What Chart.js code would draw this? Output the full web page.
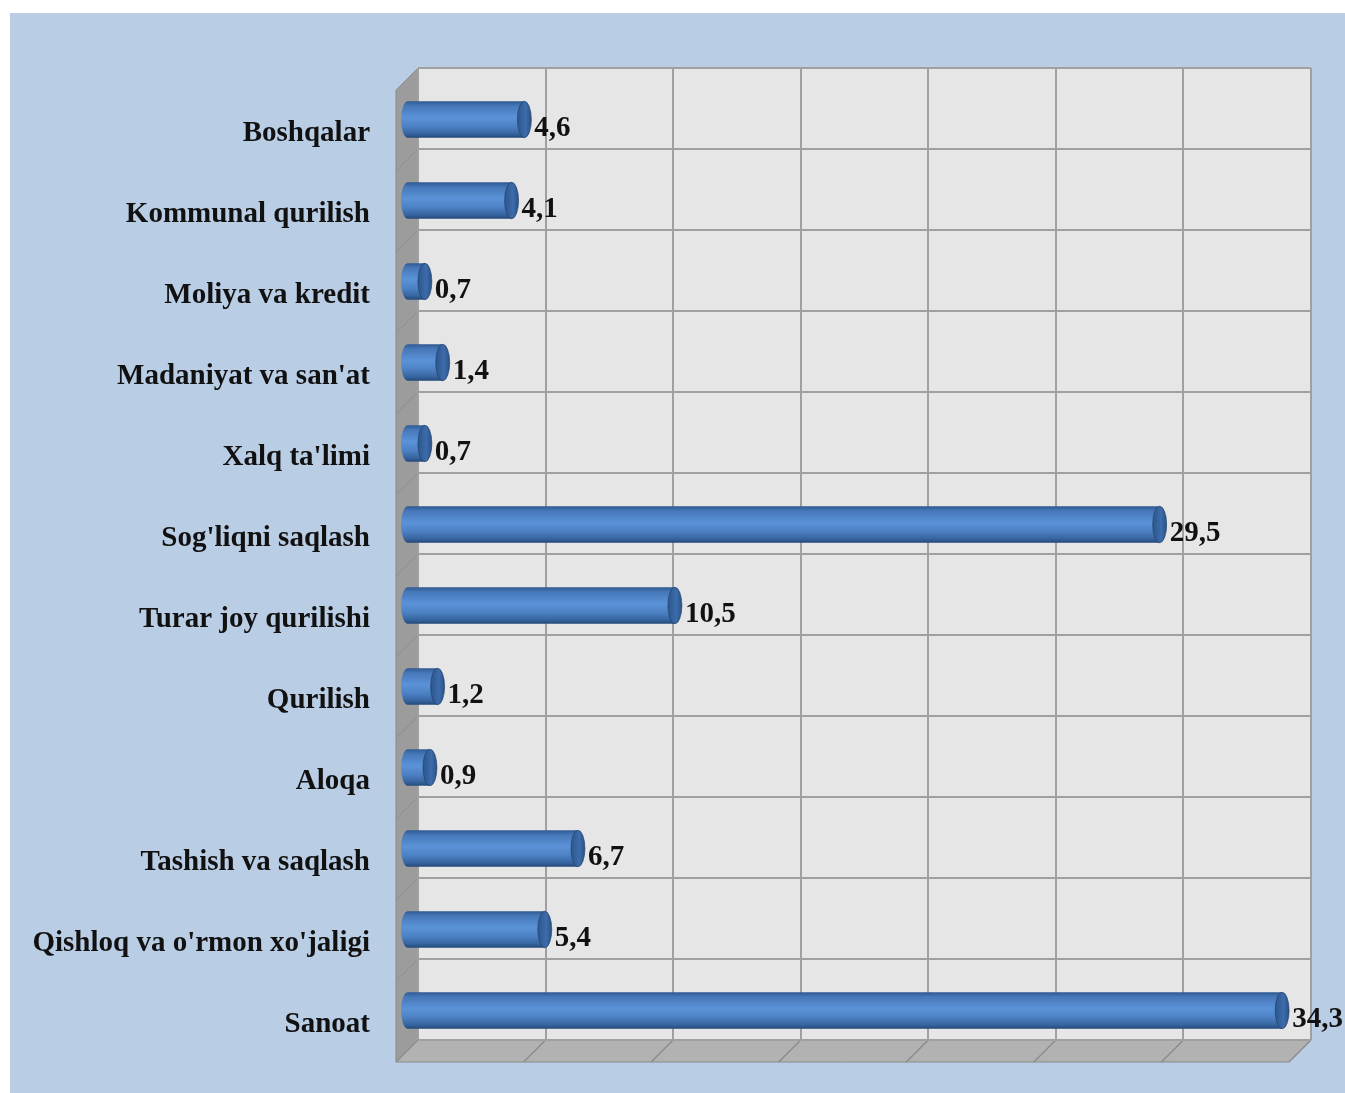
<!DOCTYPE html>
<html>
<head>
<meta charset="utf-8">
<script src="https://cdn.jsdelivr.net/npm/chart.js@4/dist/chart.umd.min.js"></script>
<style>
html,body{margin:0;padding:0;background:#ffffff;}
canvas{display:block;}
</style>
</head>
<body>
<canvas id="c" width="1345" height="1093"></canvas>
<script>
const categories = ['Boshqalar','Kommunal qurilish','Moliya va kredit',"Madaniyat va san'at","Xalq ta'limi","Sog'liqni saqlash",'Turar joy qurilishi','Qurilish','Aloqa','Tashish va saqlash',"Qishloq va o'rmon xo'jaligi",'Sanoat'];
const values = [4.6, 4.1, 0.7, 1.4, 0.7, 29.5, 10.5, 1.2, 0.9, 6.7, 5.4, 34.3];
const axisMax = 35;
const axisStep = 5;

const DEPTH = 22;      // 3D depth offset of floor/side wall
const BAR_SHIFT = 11;  // bars sit at mid depth
const FONT = '"Liberation Serif", "Times New Roman", serif';

function barGradient(ctx) {
  const chart = ctx.chart;
  const ys = chart.scales && chart.scales.y;
  if (!ys || ctx.dataIndex === undefined) return '#4f81bd';
  const yc = ys.getPixelForValue(ctx.dataIndex);
  if (!isFinite(yc)) return '#4f81bd';
  const h = 18;
  const g = chart.ctx.createLinearGradient(0, yc - h, 0, yc + h);
  g.addColorStop(0, '#2f5a94');
  g.addColorStop(0.12, '#4677b8');
  g.addColorStop(0.45, '#5b93d8');
  g.addColorStop(0.7, '#4c80c2');
  g.addColorStop(0.9, '#36649f');
  g.addColorStop(1, '#244a7a');
  return g;
}

const scene3d = {
  id: 'scene3d',
  beforeDraw(chart) {
    const c = chart.ctx;
    const a = chart.chartArea;
    c.save();
    c.fillStyle = '#ffffff';
    c.fillRect(0, 0, chart.width, chart.height);
    c.fillStyle = '#b9cde5';
    c.fillRect(10, 13, chart.width - 10, chart.height - 13);
    c.fillStyle = '#e6e6e6';
    c.fillRect(a.left, a.top, a.right - a.left, a.bottom - a.top);
    c.beginPath();
    c.moveTo(a.left, a.top);
    c.lineTo(a.left - DEPTH, a.top + DEPTH);
    c.lineTo(a.left - DEPTH, a.bottom + DEPTH);
    c.lineTo(a.left, a.bottom);
    c.closePath();
    c.fillStyle = '#9c9c9c';
    c.fill();
    c.strokeStyle = '#8a8a8a';
    c.lineWidth = 1;
    c.stroke();
    c.beginPath();
    c.moveTo(a.left, a.bottom);
    c.lineTo(a.right, a.bottom);
    c.lineTo(a.right - DEPTH, a.bottom + DEPTH);
    c.lineTo(a.left - DEPTH, a.bottom + DEPTH);
    c.closePath();
    c.fillStyle = '#b2b2b2';
    c.fill();
    c.stroke();
    const xs = chart.scales.x;
    c.strokeStyle = '#8c8c8c';
    c.lineWidth = 1.5;
    xs.ticks.forEach(t => {
      const px = xs.getPixelForValue(t.value);
      c.beginPath();
      c.moveTo(px, a.bottom);
      c.lineTo(px - DEPTH, a.bottom + DEPTH);
      c.stroke();
    });
    const ys = chart.scales.y;
    c.strokeStyle = '#8e8e8e';
    c.lineWidth = 1;
    for (let i = 0; i <= categories.length; i++) {
      const py = ys.getPixelForValue(i - 0.5);
      c.beginPath();
      c.moveTo(a.left, py);
      c.lineTo(a.left - DEPTH, py + DEPTH);
      c.stroke();
    }
    c.restore();
  },
  beforeDatasetsDraw(chart) {
    chart.ctx.save();
    chart.ctx.translate(-BAR_SHIFT, BAR_SHIFT);
  },
  afterDatasetsDraw(chart) {
    const c = chart.ctx;
    const meta = chart.getDatasetMeta(0);
    meta.data.forEach((bar, i) => {
      const h = bar.height / 2;
      const rx = 7;
      c.beginPath();
      c.ellipse(bar.base, bar.y, rx, h, 0, Math.PI / 2, Math.PI * 1.5);
      c.closePath();
      c.fillStyle = barGradient({chart, dataIndex: i});
      c.fill();
      const g = c.createLinearGradient(bar.x - rx, 0, bar.x + rx, 0);
      g.addColorStop(0, '#2c568c');
      g.addColorStop(0.6, '#3d6cab');
      g.addColorStop(1, '#2a5186');
      c.beginPath();
      c.ellipse(bar.x, bar.y, rx, h, 0, 0, Math.PI * 2);
      c.fillStyle = g;
      c.fill();
      c.strokeStyle = 'rgba(30,60,100,0.6)';
      c.lineWidth = 1;
      c.stroke();
      c.fillStyle = '#111111';
      c.font = 'bold 29px ' + FONT;
      c.textAlign = 'left';
      c.textBaseline = 'middle';
      c.fillText(String(values[i]).replace('.', ','), bar.x + rx + 3, bar.y + 9);
    });
    c.restore();
  }
};

new Chart(document.getElementById('c'), {
  type: 'bar',
  data: {
    labels: categories,
    datasets: [{
      data: values,
      backgroundColor: barGradient,
      borderWidth: 0,
      barPercentage: 0.45,
      categoryPercentage: 1,
      clip: false
    }]
  },
  options: {
    indexAxis: 'y',
    responsive: false,
    animation: false,
    devicePixelRatio: 1,
    layout: { padding: { left: 0, right: 34, top: 68, bottom: 53 } },
    plugins: { legend: { display: false }, tooltip: { enabled: false } },
    scales: {
      x: {
        min: 0,
        max: axisMax,
        afterFit(scale) { scale.height = 0; scale.paddingLeft = 0; scale.paddingRight = 0; },
        ticks: { display: false, stepSize: axisStep },
        grid: { color: '#a0a0a0', lineWidth: 2, drawTicks: false },
        border: { display: false }
      },
      y: {
        afterFit(scale) { scale.width = 418; scale.paddingTop = 0; scale.paddingBottom = 0; },
        ticks: {
          padding: 48,
          labelOffset: 25,
          color: '#111111',
          font: { family: FONT, size: 29, weight: 'bold' }
        },
        grid: { color: '#a0a0a0', lineWidth: 2, drawTicks: false, offset: true },
        border: { display: false }
      }
    }
  },
  plugins: [scene3d]
});
</script>
</body>
</html>
